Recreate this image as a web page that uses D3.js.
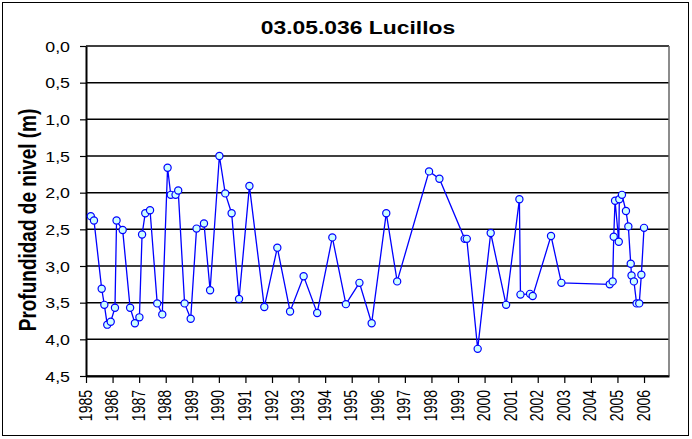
<!DOCTYPE html>
<html>
<head>
<meta charset="utf-8">
<script src="https://d3js.org/d3.v7.min.js"></script>
<style>
  body { margin: 0; background: #fff; }
  svg text { font-family: Arial, "Liberation Sans", sans-serif; }
</style>
</head>
<body>
<svg id="chart" width="692" height="439"></svg>
<script>
// readings (decimal year, depth in m)
const years = [1985.18, 1985.30, 1985.59, 1985.69, 1985.80, 1985.93, 1986.09, 1986.15, 1986.38, 1986.66,
  1986.84, 1987.01, 1987.11, 1987.23, 1987.41, 1987.68, 1987.87, 1988.07, 1988.19, 1988.37,
  1988.47, 1988.71, 1988.94, 1989.16, 1989.44, 1989.67, 1990.02, 1990.24, 1990.48, 1990.76,
  1991.15, 1991.71, 1992.20, 1992.68, 1993.19, 1993.70, 1994.27, 1994.78, 1995.29, 1995.75,
  1996.30, 1996.71, 1997.91, 1998.30, 1999.25, 1999.33, 1999.74, 2000.23, 2000.81, 2001.31,
  2001.35, 2001.71, 2001.81, 2002.50, 2002.89, 2004.71, 2004.82, 2004.86, 2004.91, 2005.05,
  2005.07, 2005.17, 2005.32, 2005.41, 2005.50, 2005.53, 2005.62, 2005.72, 2005.82, 2005.90,
  2006.00];
const depths = [2.32, 2.38, 3.31, 3.53, 3.80, 3.76, 3.57, 2.38, 2.51, 3.57,
  3.78, 3.70, 2.57, 2.28, 2.24, 3.51, 3.66, 1.66, 2.03, 2.03,
  1.97, 3.51, 3.72, 2.49, 2.42, 3.33, 1.50, 2.01, 2.28, 3.45,
  1.91, 3.56, 2.75, 3.62, 3.14, 3.64, 2.61, 3.52, 3.23, 3.78,
  2.28, 3.21, 1.71, 1.81, 2.63, 2.63, 4.13, 2.55, 3.53, 2.09,
  3.39, 3.38, 3.41, 2.59, 3.23, 3.25, 3.21, 2.60, 2.11, 2.67,
  2.09, 2.03, 2.25, 2.46, 2.97, 3.13, 3.21, 3.51, 3.51, 3.12,
  2.48];
const yearTicks = d3.range(1985, 2007);
const depthTicks = d3.range(0, 4.51, 0.5);

const title = "03.05.036 Lucillos";
const yTitle = "Profundidad de nivel (m)";

const svg = d3.select("#chart");
const m = { left: 86, right: 669, top: 46, bottom: 376 };
const sx = 1.27; // text in the original is stretched sideways

const x = d3.scaleLinear().domain([1985, 2006.94]).range([m.left, m.right]);
const y = d3.scaleLinear().domain([0, 4.5]).range([m.top, m.bottom]);

// outer border
svg.append("rect")
  .attr("x", 2.5).attr("y", 2.5).attr("width", 686).attr("height", 433)
  .attr("fill", "#fff").attr("stroke", "#000").attr("stroke-width", 1);

// grid lines
svg.append("g")
  .selectAll("line")
  .data(depthTicks)
  .join("line")
  .attr("x1", m.left).attr("x2", m.right)
  .attr("y1", d => y(d)).attr("y2", d => y(d))
  .attr("stroke", "#000").attr("stroke-width", 1.5);

// right border of plot
svg.append("line")
  .attr("x1", m.right).attr("x2", m.right).attr("y1", m.top).attr("y2", m.bottom)
  .attr("stroke", "#666").attr("stroke-width", 1.5);

// y axis
const yAxis = svg.append("g")
  .attr("transform", `translate(${m.left},0)`)
  .call(d3.axisLeft(y).tickValues(depthTicks).tickSize(6).tickSizeOuter(0)
    .tickFormat(d => d3.format(".1f")(d).replace(".", ",")));
yAxis.select(".domain").attr("stroke", "#000").attr("stroke-width", 2);
yAxis.selectAll(".tick line").attr("stroke", "#000").attr("stroke-width", 1.2);
yAxis.selectAll(".tick text")
  .attr("x", null).attr("dy", null)
  .attr("transform", "translate(-16,5) scale(" + sx + ",1)")
  .attr("fill", "#000").style("font-size", "14px");

// x axis
const xAxis = svg.append("g")
  .attr("transform", `translate(0,${m.bottom})`)
  .call(d3.axisBottom(x).tickValues(yearTicks).tickSize(7).tickSizeOuter(0).tickFormat(d3.format("d")));
xAxis.select(".domain").attr("stroke", "#000").attr("stroke-width", 2);
xAxis.selectAll(".tick line").attr("stroke", "#000").attr("stroke-width", 1.2);
xAxis.selectAll(".tick text")
  .attr("y", null).attr("dy", null)
  .attr("text-anchor", "end")
  .attr("transform", "translate(5,14) scale(" + sx + ",1) rotate(-90)")
  .attr("fill", "#000").style("font-size", "14px");

// series line
const pts = years.map((yr, i) => [yr, depths[i]]);
svg.append("path")
  .datum(pts)
  .attr("fill", "none")
  .attr("stroke", "#0000ff")
  .attr("stroke-width", 1.3)
  .attr("d", d3.line().x(d => x(d[0])).y(d => y(d[1])));

svg.append("g")
  .selectAll("circle")
  .data(pts)
  .join("circle")
  .attr("cx", d => x(d[0])).attr("cy", d => y(d[1]))
  .attr("r", 3.6)
  .attr("fill", "#ccffff")
  .attr("stroke", "#0000ff").attr("stroke-width", 1.2);

// titles
svg.append("text")
  .attr("transform", "translate(358,34) scale(" + sx + ",1)")
  .attr("text-anchor", "middle")
  .style("font-size", "18px").style("font-weight", "bold")
  .text(title);

svg.append("text")
  .attr("transform", "translate(36,220) scale(" + sx + ",1) rotate(-90)")
  .attr("text-anchor", "middle")
  .style("font-size", "19px").style("font-weight", "bold")
  .text(yTitle);
</script>
</body>
</html>
